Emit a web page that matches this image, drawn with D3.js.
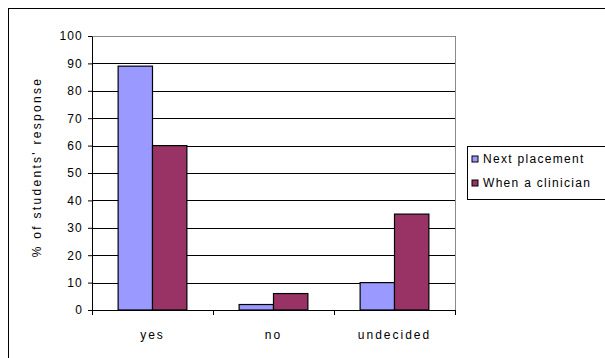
<!DOCTYPE html>
<html>
<head>
<meta charset="utf-8">
<script src="https://cdn.jsdelivr.net/npm/d3@7"></script>
<style>
  body { margin: 0; background: #fff; }
  svg text { font-family: "Liberation Sans", Arial, sans-serif; fill: #000; }
</style>
</head>
<body>
<div id="chart"></div>
<script>
// data
var categories = ["yes", "no", "undecided"];
var seriesNames = ["Next placement", "When a clinician"];
var nextPlacement = [89, 2, 10];
var whenClinician = [60, 6, 35];
var yTicks = [0, 10, 20, 30, 40, 50, 60, 70, 80, 90, 100];

var W = 605, H = 358;
var margin = { top: 36, left: 92, right: 150, bottom: 48 };
var plotW = 455 - margin.left,
    plotH = 310 - margin.top;

var svg = d3.select("#chart")
    .append("svg")
    .attr("width", W)
    .attr("height", H);

// outer chart border (right and bottom run off the picture)
svg.append("rect")
    .attr("x", 8.5).attr("y", 8.5)
    .attr("width", 620).attr("height", 400)
    .attr("fill", "#fff")
    .attr("stroke", "#000");

var g = svg.append("g")
    .attr("transform", "translate(" + margin.left + "," + margin.top + ")");

var x0 = d3.scaleBand()
    .domain(categories)
    .range([0, plotW]);

var x1 = d3.scaleBand()
    .domain(seriesNames)
    .range([0, x0.bandwidth()])
    .paddingInner(0)
    .paddingOuter(0.76);

var y = d3.scaleLinear()
    .domain([0, 100])
    .range([plotH, 0]);

var colors = { "Next placement": "#9999ff", "When a clinician": "#993366" };

// grid lines
g.selectAll("line.grid")
    .data(yTicks.filter(function (d) { return d > 0; }))
    .enter()
    .append("line")
    .attr("class", "grid")
    .attr("x1", 0).attr("x2", plotW)
    .attr("y1", function (d) { return Math.round(y(d)) + 0.5; })
    .attr("y2", function (d) { return Math.round(y(d)) + 0.5; })
    .attr("stroke", function (d) { return d === 100 ? "#8a8a8a" : "#000"; })
    .attr("stroke-width", function (d) { return d === 100 ? 1 : 1.2; });

// right edge of plot area
g.append("line")
    .attr("x1", plotW + 0.5).attr("x2", plotW + 0.5)
    .attr("y1", y(100)).attr("y2", plotH)
    .attr("stroke", "#8a8a8a");

// bars
var rows = categories.map(function (c, i) {
    return { cat: c, vals: [
        { name: seriesNames[0], v: nextPlacement[i] },
        { name: seriesNames[1], v: whenClinician[i] }
    ] };
});

var groups = g.selectAll("g.grp")
    .data(rows)
    .enter()
    .append("g")
    .attr("transform", function (d) { return "translate(" + x0(d.cat) + ",0)"; });

groups.selectAll("rect")
    .data(function (d) { return d.vals; })
    .enter()
    .append("rect")
    .attr("x", function (d) { return x1(d.name); })
    .attr("y", function (d) { return y(d.v); })
    .attr("width", x1.bandwidth())
    .attr("height", function (d) { return plotH - y(d.v); })
    .attr("fill", function (d) { return colors[d.name]; })
    .attr("stroke", "#000")
    .attr("stroke-width", 1.2);

// y axis
var yAxis = g.append("g")
    .call(d3.axisLeft(y).tickValues(yTicks).tickSize(4).tickSizeOuter(0));
yAxis.select(".domain").attr("stroke", "#000");
yAxis.selectAll("text")
    .attr("x", -9)
    .style("font-family", "'Liberation Sans', Arial, sans-serif")
    .style("font-size", "12px")
    .style("letter-spacing", "1.2px");

// x axis with ticks between categories
var xAxis = g.append("g")
    .attr("transform", "translate(0," + plotH + ")");
xAxis.append("line")
    .attr("x1", 0).attr("x2", plotW)
    .attr("y1", 0.5).attr("y2", 0.5)
    .attr("stroke", "#000");
xAxis.selectAll("line.tk")
    .data(d3.range(categories.length + 1))
    .enter()
    .append("line")
    .attr("x1", function (i) { return Math.round(i * x0.step()) + 0.5; })
    .attr("x2", function (i) { return Math.round(i * x0.step()) + 0.5; })
    .attr("y1", 0).attr("y2", 5)
    .attr("stroke", "#000");
xAxis.selectAll("text")
    .data(categories)
    .enter()
    .append("text")
    .attr("x", function (d) { return x0(d) + x0.bandwidth() / 2; })
    .attr("y", 29)
    .attr("text-anchor", "middle")
    .style("font-size", "12px")
    .style("letter-spacing", "2px")
    .text(function (d) { return d; });

// y label
svg.append("text")
    .attr("transform", "translate(41," + 167 + ") rotate(-90)")
    .attr("text-anchor", "middle")
    .style("font-size", "12px")
    .style("letter-spacing", "2.3px")
    .text("% of students' response");

// legend
var leg = svg.append("g").attr("transform", "translate(467,146)");
leg.append("rect")
    .attr("x", 0.5).attr("y", 0.5)
    .attr("width", 160).attr("height", 53)
    .attr("fill", "#fff")
    .attr("stroke", "#000");
var items = leg.selectAll("g.item")
    .data(seriesNames)
    .enter()
    .append("g")
    .attr("transform", function (d, i) { return "translate(5," + (10 + i * 24) + ")"; });
items.append("rect")
    .attr("width", 6).attr("height", 6)
    .attr("fill", function (d) { return colors[d]; })
    .attr("stroke", "#000");
items.append("text")
    .attr("x", 11).attr("y", 7)
    .style("font-size", "12px")
    .style("letter-spacing", "1.3px")
    .text(function (d) { return d; });
</script>
</body>
</html>
